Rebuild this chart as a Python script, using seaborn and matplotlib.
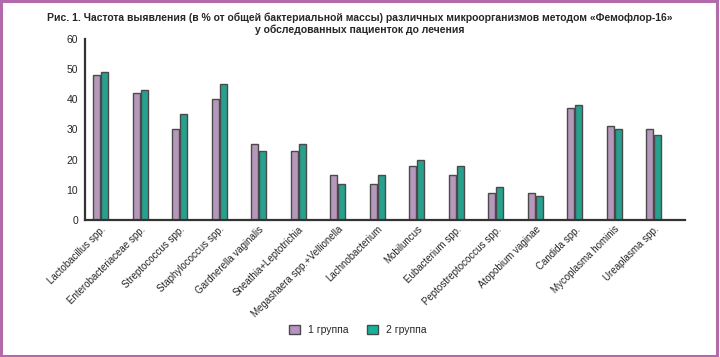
import pandas as pd
import matplotlib.pyplot as plt
import seaborn as sns
from matplotlib.patches import Patch, Rectangle

# data
organisms = ["Lactobacillus spp.", "Enterobacteriaceae spp.", "Streptococcus spp.",
             "Staphylococcus spp.", "Gardnerella vaginalis", "Sneathia+Leptotrichia",
             "Megashaera spp.+Vellionella", "Lachnobacterium", "Mobiluncus",
             "Eubacterium spp.", "Peptostreptococcus spp.", "Atopobium vaginae",
             "Candida spp.", "Mycoplasma hominis", "Ureaplasma spp."]
group1 = [48, 42, 30, 40, 25, 23, 15, 12, 18, 15, 9, 9, 37, 31, 30]
group2 = [49, 43, 35, 45, 23, 25, 12, 15, 20, 18, 11, 8, 38, 30, 28]
groups = ["1 группа", "2 группа"]
colors = ["#ba92c2", "#14b49c"]

df = pd.DataFrame({
    "organism": organisms * 2,
    "value": group1 + group2,
    "group": [groups[0]] * len(organisms) + [groups[1]] * len(organisms),
})

sns.set_style("white")
plt.rcParams["font.family"] = ["Liberation Sans", "DejaVu Sans"]

fig = plt.figure(figsize=(7.2, 3.57), dpi=100)
ax = fig.add_axes([0.118, 0.384, 0.833, 0.507])

sns.barplot(data=df, x="organism", y="value", hue="group", palette=colors,
            width=0.4, gap=0.12, edgecolor="#4a4a4a", linewidth=1.0,
            legend=False, ax=ax)

ax.set_xlim(-0.4, 14.78)
ax.set_ylim(0, 60)
ax.set_yticks(range(0, 61, 10))
ax.set_xlabel("")
ax.set_ylabel("")
sns.despine(ax=ax)
for s in ["left", "bottom"]:
    ax.spines[s].set_color("#333333")
    ax.spines[s].set_linewidth(1.6)
ax.tick_params(axis="y", length=3, width=1, color="#333333", labelsize=7.5, pad=2)
ax.tick_params(axis="x", length=0, labelsize=7, pad=3)
plt.setp(ax.get_xticklabels(), rotation=45, ha="right", rotation_mode="anchor")

fig.text(0.5, 0.949, "Рис. 1. Частота выявления (в % от общей бактериальной массы) различных "
         "микроорганизмов методом «Фемофлор-16»",
         ha="center", va="center", fontsize=7.5, fontweight="bold")
fig.text(0.5, 0.916, "у обследованных пациенток до лечения",
         ha="center", va="center", fontsize=7.5, fontweight="bold")

handles = [Patch(facecolor=c, edgecolor="#4a4a4a", linewidth=1) for c in colors]
fig.legend(handles, groups, loc="center", bbox_to_anchor=(0.497, 0.075), ncol=2,
           frameon=False, fontsize=7.5, handlelength=1.0, handleheight=1.0,
           columnspacing=1.8, handletextpad=0.8)

fig.patches.append(Rectangle((0.002, 0.003), 0.994, 0.994, transform=fig.transFigure,
                             fill=False, edgecolor="#b26aa8", linewidth=2.2))

fig.savefig("out.png", dpi=100)
